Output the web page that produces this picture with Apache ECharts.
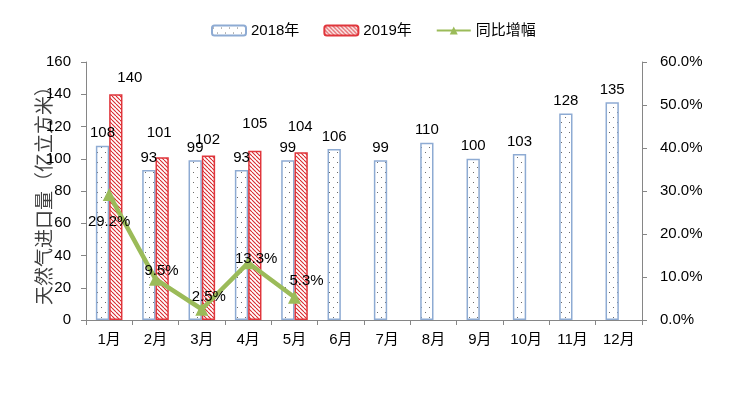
<!DOCTYPE html>
<html>
<head>
<meta charset="utf-8">
<script src="https://cdn.jsdelivr.net/npm/echarts@6/dist/echarts.min.js"></script>
<style>
html,body{margin:0;padding:0;background:#fff;}
#c{width:731px;height:396px;}
</style>
</head>
<body>
<div id="c"></div>
<script>
var months = ['1月','2月','3月','4月','5月','6月','7月','8月','9月','10月','11月','12月'];
var values2018 = [108, 93, 99, 93, 99, 106, 99, 110, 100, 103, 128, 135];
var values2019 = [140, 101, 102, 105, 104];
var growth = [29.2, 9.5, 2.5, 13.3, 5.3];
var seriesNames = ['2018年', '2019年', '同比增幅'];
var yAxisName = '天然气进口量（亿立方米）';

// label placement tweaks (styling only)
var lab2019Offsets = [[14,-4],[-3,-12],[-1,-3],[0,-14],[-1,-13]];
var growthOffsets = [[0,27],[6,-8],[7,-12],[8,-4],[12,-16]];

function dotPattern(){
  var c = document.createElement('canvas');
  c.width = 8; c.height = 10;
  var g = c.getContext('2d');
  g.fillStyle = '#ffffff'; g.fillRect(0,0,8,10);
  g.fillStyle = '#6a6a6a';
  g.fillRect(1,2,1,1);
  g.fillRect(5,7,1,1);
  return c;
}
function hatchPattern(){
  var c = document.createElement('canvas');
  c.width = 4; c.height = 4;
  var g = c.getContext('2d');
  g.fillStyle = '#ffffff'; g.fillRect(0,0,4,4);
  g.strokeStyle = '#d8282d'; g.lineWidth = 1.1;
  for (var k=-4;k<=4;k+=4){
    g.beginPath(); g.moveTo(k,0); g.lineTo(k+4,4); g.stroke();
  }
  return c;
}

var font = "'Liberation Sans','Noto Sans CJK SC',sans-serif";
var chart = echarts.init(document.getElementById('c'), null, {renderer:'canvas'});

var d2019 = values2019.map(function(v,i){
  return {value:v, label:{offset:lab2019Offsets[i]}};
});
var dGrowth = growth.map(function(v,i){
  return {value:v, label:{offset:growthOffsets[i]}};
});

chart.setOption({
  animation:false,
  textStyle:{fontFamily:font},
  legend:{
    top:18, left:206,
    itemWidth:34, itemHeight:10, itemGap:24,
    textStyle:{fontSize:15, color:'#000', fontFamily:font},
    data:seriesNames
  },
  grid:{left:86, right:89, top:62, bottom:76},
  xAxis:{
    type:'category', data:months,
    axisLine:{lineStyle:{color:'#868686', width:1}},
    axisTick:{show:true, alignWithLabel:false, length:5, lineStyle:{color:'#868686'}},
    axisLabel:{fontSize:15, color:'#000', margin:12, fontFamily:font},
    splitLine:{show:false}
  },
  yAxis:[{
    type:'value', min:0, max:160, interval:20,
    name:yAxisName, nameLocation:'middle', nameGap:31, nameRotate:90,
    nameMoveOverlap:false,
    nameTextStyle:{fontSize:19, color:'#404040', fontFamily:font},
    axisLine:{show:true, lineStyle:{color:'#868686'}},
    axisTick:{show:true, length:5, lineStyle:{color:'#868686'}},
    axisLabel:{fontSize:15, color:'#000', margin:15, fontFamily:font},
    splitLine:{show:false}
  },{
    type:'value', min:0, max:60, interval:10,
    axisLine:{show:true, lineStyle:{color:'#868686'}},
    axisTick:{show:true, length:5, lineStyle:{color:'#868686'}},
    axisLabel:{fontSize:15, color:'#000', margin:18, fontFamily:font,
      formatter:function(v){return v.toFixed(1)+'%';}},
    splitLine:{show:false}
  }],
  series:[{
    name:seriesNames[0], type:'bar', barWidth:13.3, barGap:'0%',
    data:values2018,
    itemStyle:{color:{image:dotPattern(), repeat:'repeat'}, borderColor:'#8EABD3', borderWidth:1.5},
    label:{show:true, position:'top', distance:5, fontSize:15, color:'#000', fontFamily:font}
  },{
    name:seriesNames[1], type:'bar', barWidth:13.3,
    data:d2019,
    itemStyle:{color:{image:hatchPattern(), repeat:'repeat'}, borderColor:'#E0363C', borderWidth:1.5},
    label:{show:true, position:'top', distance:5, fontSize:15, color:'#000', fontFamily:font}
  },{
    name:seriesNames[2], type:'line', yAxisIndex:1,
    data:dGrowth,
    lineStyle:{color:'#9BBB59', width:4.5},
    itemStyle:{color:'#9BBB59'},
    symbol:'triangle', symbolSize:13, showAllSymbol:true,
    label:{show:true, position:'inside', fontSize:15, color:'#000', fontFamily:font,
      formatter:function(p){return p.value.toFixed(1)+'%';}},
    z:5
  }]
});
</script>
</body>
</html>
